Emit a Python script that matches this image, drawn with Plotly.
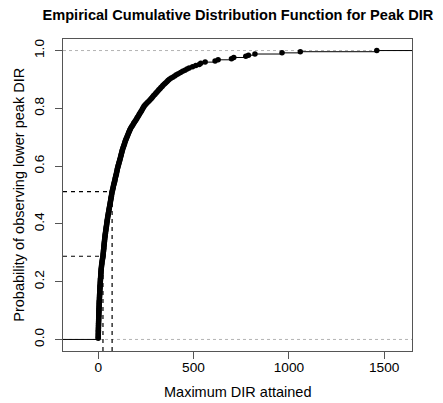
import numpy as np
import plotly.graph_objects as go

title_text = "Empirical Cumulative Distribution Function for Peak DIR"
x_label = "Maximum DIR attained"
y_label = "Probability of observing lower peak DIR"

peak_dir = [
    0.1, 0.2, 0.35, 0.5, 0.6, 0.75, 0.85, 0.95,
    1.1, 1.3, 1.45, 1.6, 1.8, 1.95, 2.1, 2.3, 2.5, 2.65, 2.8, 3.0, 3.2, 3.4,
    3.55, 3.7, 3.9, 4.1, 4.3, 4.5, 4.75, 4.95,
    5.2, 5.5, 5.8, 6.1, 6.4, 6.7, 7.0, 7.3, 7.6, 7.9, 8.2, 8.5, 8.8, 9.1, 9.4, 9.7, 10.0,
    10.4, 10.8, 11.2, 11.6, 12.0, 12.4, 12.8, 13.2, 13.6, 14.0, 14.4, 14.7, 15.0,
    15.7, 16.4, 17.1, 17.8, 18.5, 19.2, 20.0,
    21.0, 22.0, 23.0, 24.0, 25.0,
    25.6, 26.2, 26.8, 27.4, 28.0, 28.6, 29.2, 29.8, 30.4, 31.0, 31.6, 32.2, 32.8,
    33.4, 34.0, 34.8, 35.6, 36.3, 37.0,
    37.9, 38.7, 39.6, 40.4, 41.3, 42.1, 43.0, 43.9, 44.7, 45.6, 46.4, 47.3, 48.2, 49.1, 50.0,
    51.1, 52.2, 53.2, 54.3, 55.4, 56.4, 57.5, 58.6, 59.6, 60.7, 61.8, 62.8, 63.9, 65.0, 66.0,
    66.9, 68.0, 69.1, 70.1, 71.0, 72.0, 73.0,
    75, 76, 78, 79, 80, 82, 83, 85, 86, 88, 89, 90, 92, 93, 95, 96, 97, 99, 100,
    101, 103, 104, 106, 108, 109, 111, 113, 114, 116, 118, 119, 121, 122, 124, 125, 127,
    129, 131, 133, 135, 137, 139, 141, 143, 145, 148, 150,
    153, 155, 158, 160, 163, 165, 168, 171,
    175, 179, 183, 186, 190, 194, 198,
    202, 205, 209, 213, 216, 220, 224, 227, 231, 234, 238, 241,
    247, 252, 258, 264, 270,
    276, 281, 286, 291, 297, 302,
    307, 313, 318, 324, 329, 335, 340,
    347, 353, 360, 366, 372,
    381, 391, 401, 410, 420,
    432, 443, 455, 466, 477,
    495, 512, 530, 538,
    561, 613, 629, 699, 711, 774, 788, 822, 964, 1060, 1461,
]

# DIR thresholds marked with dashed guide lines
ref_x = [25, 73]

x_tick_vals = [0, 500, 1000, 1500]
y_tick_vals = [0.0, 0.2, 0.4, 0.6, 0.8, 1.0]
y_tick_text = ["0.0", "0.2", "0.4", "0.6", "0.8", "1.0"]

# ---- ECDF computation (as R's plot.ecdf) ----
vals = np.sort(np.array(peak_dir, dtype=float))
n = len(vals)
knots = np.unique(vals)
Fk = np.searchsorted(vals, knots, side="right") / n
rx = knots[-1] - knots[0]
dr = max(0.08 * rx, float(np.median(np.diff(knots))))
xlim = [knots[0] - dr, knots[-1] + dr]
pad = 0.04 * (xlim[1] - xlim[0])
x_range = [xlim[0] - pad, xlim[1] + pad]
y_range = [-0.04, 1.04]

ti = np.concatenate([[xlim[0] - dr], knots, [xlim[1] + dr]])
heights = np.concatenate([[0.0], Fk])
seg_x, seg_y = [], []
for i in range(len(ti) - 1):
    seg_x += [ti[i], ti[i + 1], None]
    seg_y += [heights[i], heights[i], None]

ref_p = [float(np.searchsorted(vals, v, side="right") / n) for v in ref_x]

FONT = "Liberation Sans, Arial, Helvetica, sans-serif"
dash = "4px,4px"

fig = go.Figure()

# grey 0/1 lines
for h in [0.0, 1.0]:
    fig.add_trace(go.Scatter(x=[x_range[0], x_range[1]], y=[h, h], mode="lines",
                             line=dict(color="#b3b3b3", width=1, dash="3px,3px"),
                             hoverinfo="skip", showlegend=False))

# step segments
fig.add_trace(go.Scatter(x=seg_x, y=seg_y, mode="lines",
                         line=dict(color="black", width=1),
                         hoverinfo="skip", showlegend=False))

# points
fig.add_trace(go.Scatter(x=knots, y=Fk, mode="markers",
                         marker=dict(color="black", size=5.5),
                         cliponaxis=True, showlegend=False))

# dashed guide lines
for xv, pv in zip(ref_x, ref_p):
    fig.add_trace(go.Scatter(x=[x_range[0], xv], y=[pv, pv], mode="lines",
                             line=dict(color="black", width=1.2, dash=dash),
                             hoverinfo="skip", showlegend=False))
    fig.add_trace(go.Scatter(x=[xv, xv], y=[y_range[0], pv], mode="lines",
                             line=dict(color="black", width=1.2, dash=dash),
                             hoverinfo="skip", showlegend=False))

# the page body adds an 8px offset; lay out in screen pixels minus that
OFF = 8
W, H = 443 - OFF, 403 - OFF
box_l, box_r, box_t, box_b = 63.3 - OFF, 412.5 - OFF, 39.4 - OFF, 351.2 - OFF
L, R, T, B = box_l, W - box_r, box_t, H - box_b
plot_w, plot_h = box_r - box_l, box_b - box_t

fig.update_layout(
    width=W, height=H,
    margin=dict(l=L, r=R, t=T, b=B, pad=0),
    paper_bgcolor="white", plot_bgcolor="white",
    font=dict(family=FONT, color="black"),
    title=dict(text="<b>" + title_text + "</b>",
               x=(box_l + plot_w / 2) / W, xanchor="center",
               y=1 - (15 - OFF) / H, yanchor="middle",
               font=dict(size=14.6, family=FONT, color="black")),
    xaxis=dict(range=x_range, tickvals=x_tick_vals, ticks="outside", ticklen=7,
               tickwidth=1, tickcolor="#555", showline=True, linecolor="#555",
               linewidth=1, mirror=True, showgrid=False, zeroline=False,
               ticklabelstandoff=-3,
               tickfont=dict(size=13.7, family=FONT, color="black")),
    yaxis=dict(range=y_range, tickvals=y_tick_vals, ticktext=y_tick_text,
               ticks="outside", ticklen=7, tickwidth=1, tickcolor="#555",
               showline=True, linecolor="#555", linewidth=1, mirror=True,
               showgrid=False, zeroline=False, tickangle=-90,
               ticklabelstandoff=6,
               tickfont=dict(size=13.7, family=FONT, color="black")),
    annotations=[
        dict(text=x_label, xref="paper", yref="paper", x=0.5,
             y=-(392 - OFF - box_b) / plot_h, xanchor="center", yanchor="middle",
             showarrow=False, font=dict(size=14.5, family=FONT, color="black")),
        dict(text=y_label, xref="paper", yref="paper",
             x=-(box_l - (19 - OFF)) / plot_w, y=0.5, xanchor="center", yanchor="middle",
             textangle=-90, showarrow=False,
             font=dict(size=14.5, family=FONT, color="black")),
    ],
)

fig.write_html("out.html")
